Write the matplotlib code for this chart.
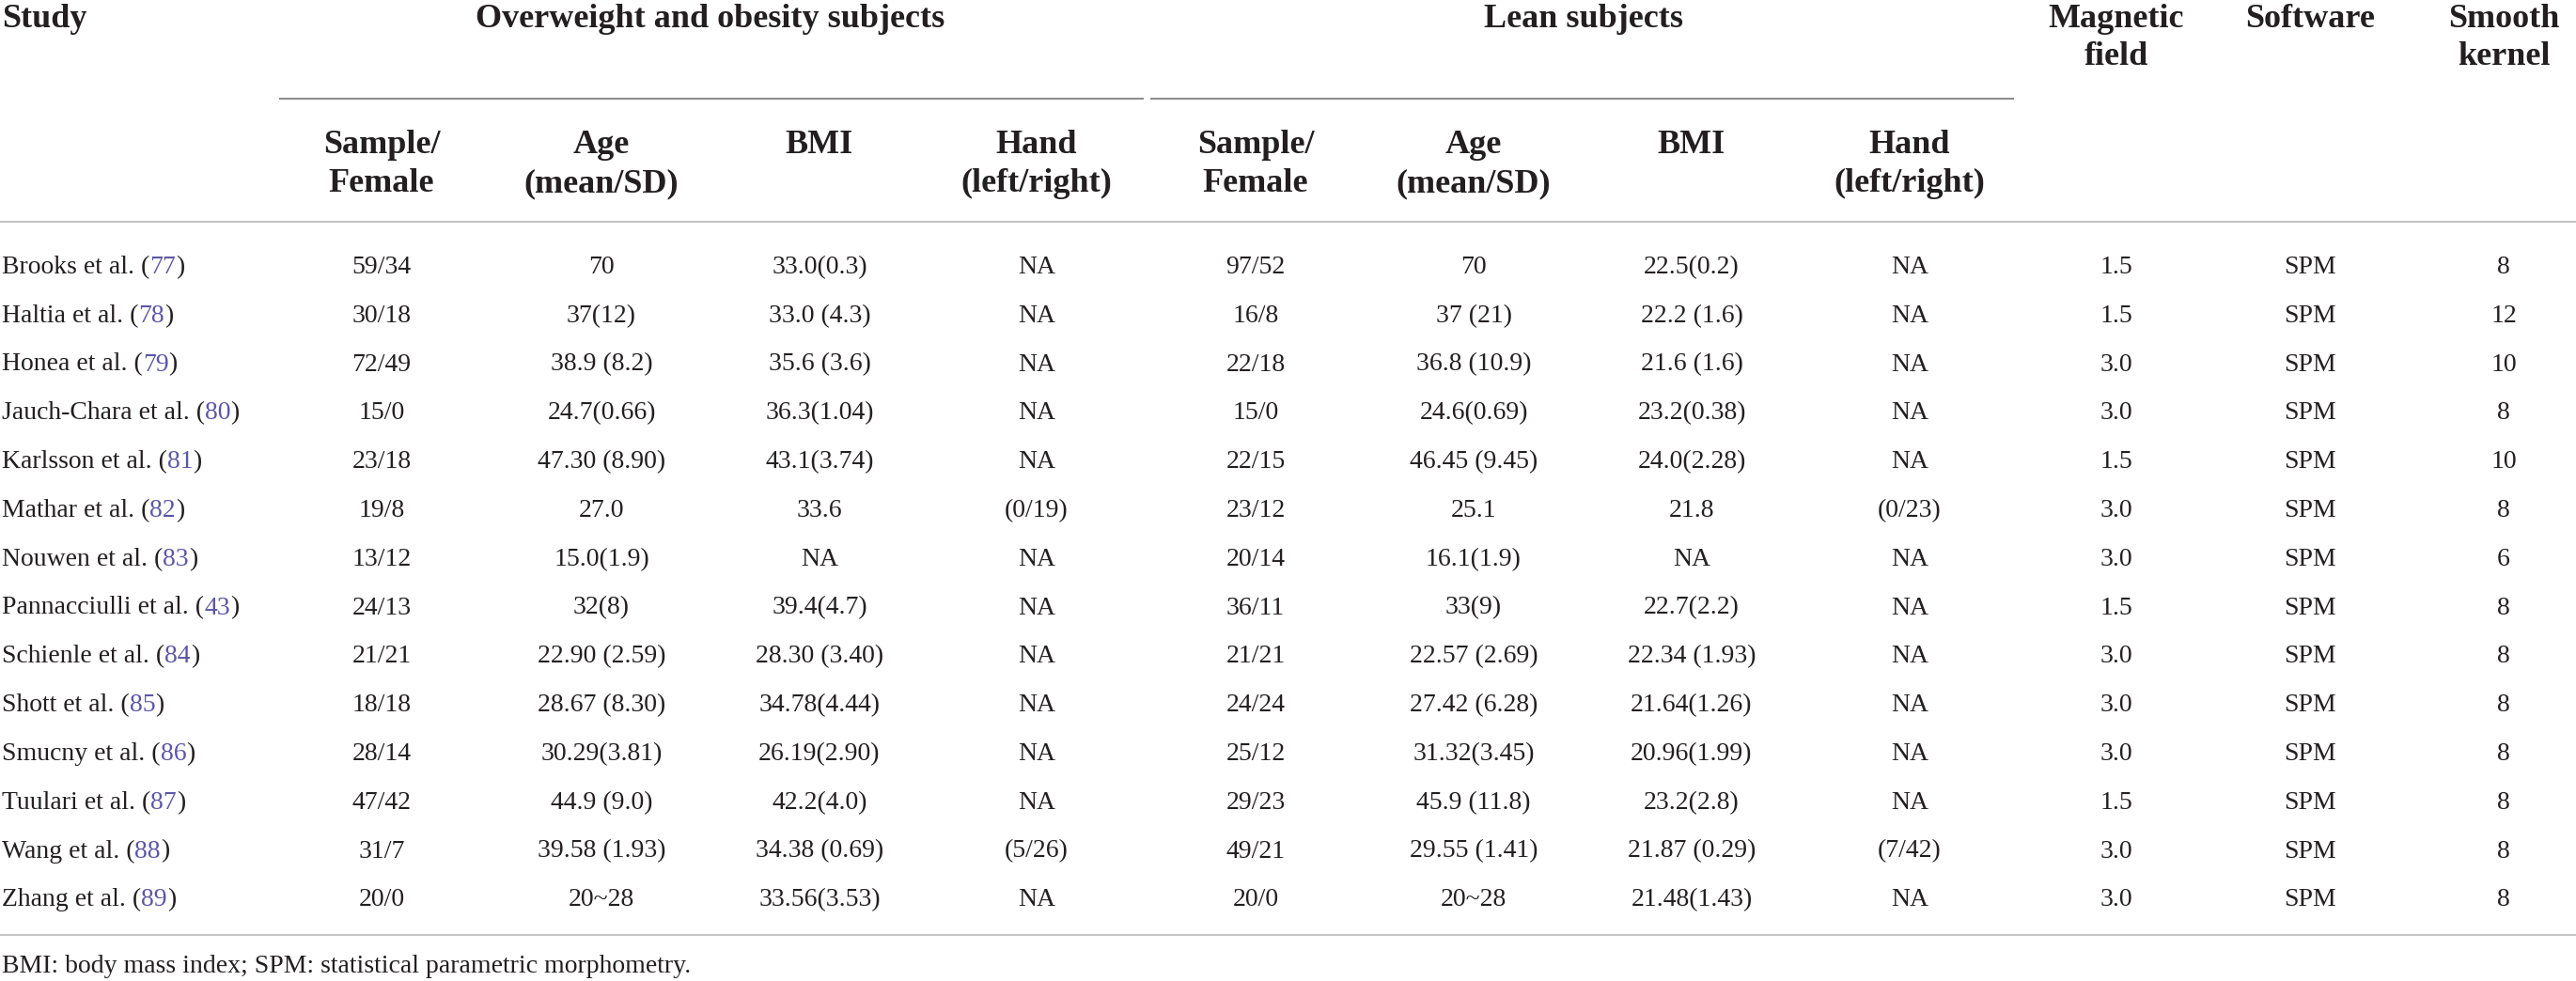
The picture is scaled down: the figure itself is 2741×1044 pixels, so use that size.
import matplotlib
matplotlib.use("Agg")
import matplotlib.pyplot as plt

# table content
studies = ["Brooks et al.", "Haltia et al.", "Honea et al.", "Jauch-Chara et al.",
           "Karlsson et al.", "Mathar et al.", "Nouwen et al.", "Pannacciulli et al.",
           "Schienle et al.", "Shott et al.", "Smucny et al.", "Tuulari et al.",
           "Wang et al.", "Zhang et al."]
refs = ["77", "78", "79", "80", "81", "82", "83", "43", "84", "85", "86", "87", "88", "89"]

ow_sample = ["59/34", "30/18", "72/49", "15/0", "23/18", "19/8", "13/12", "24/13",
             "21/21", "18/18", "28/14", "47/42", "31/7", "20/0"]
ow_age = ["70", "37(12)", "38.9 (8.2)", "24.7(0.66)", "47.30 (8.90)", "27.0", "15.0(1.9)",
          "32(8)", "22.90 (2.59)", "28.67 (8.30)", "30.29(3.81)", "44.9 (9.0)",
          "39.58 (1.93)", "20~28"]
ow_bmi = ["33.0(0.3)", "33.0 (4.3)", "35.6 (3.6)", "36.3(1.04)", "43.1(3.74)", "33.6", "NA",
          "39.4(4.7)", "28.30 (3.40)", "34.78(4.44)", "26.19(2.90)", "42.2(4.0)",
          "34.38 (0.69)", "33.56(3.53)"]
ow_hand = ["NA", "NA", "NA", "NA", "NA", "(0/19)", "NA", "NA", "NA", "NA", "NA", "NA",
           "(5/26)", "NA"]

lean_sample = ["97/52", "16/8", "22/18", "15/0", "22/15", "23/12", "20/14", "36/11",
               "21/21", "24/24", "25/12", "29/23", "49/21", "20/0"]
lean_age = ["70", "37 (21)", "36.8 (10.9)", "24.6(0.69)", "46.45 (9.45)", "25.1", "16.1(1.9)",
            "33(9)", "22.57 (2.69)", "27.42 (6.28)", "31.32(3.45)", "45.9 (11.8)",
            "29.55 (1.41)", "20~28"]
lean_bmi = ["22.5(0.2)", "22.2 (1.6)", "21.6 (1.6)", "23.2(0.38)", "24.0(2.28)", "21.8", "NA",
            "22.7(2.2)", "22.34 (1.93)", "21.64(1.26)", "20.96(1.99)", "23.2(2.8)",
            "21.87 (0.29)", "21.48(1.43)"]
lean_hand = ["NA", "NA", "NA", "NA", "NA", "(0/23)", "NA", "NA", "NA", "NA", "NA", "NA",
             "(7/42)", "NA"]

field = ["1.5", "1.5", "3.0", "3.0", "1.5", "3.0", "3.0", "1.5", "3.0", "3.0", "3.0", "1.5",
         "3.0", "3.0"]
software = ["SPM"] * 14
kernel = ["8", "12", "10", "8", "10", "8", "6", "8", "8", "8", "8", "8", "8", "8"]

group_labels = ["Overweight and obesity subjects", "Lean subjects"]
sub_labels = [("Sample/", "Female"), ("Age", "(mean/SD)"), ("BMI", ""), ("Hand", "(left/right)")]
right_labels = [("Magnetic", "field"), ("Software", ""), ("Smooth", "kernel")]
footnote = "BMI: body mass index; SPM: statistical parametric morphometry."

columns = [ow_sample, ow_age, ow_bmi, ow_hand, lean_sample, lean_age, lean_bmi, lean_hand,
           field, software, kernel]

# layout (pixels)
W, H = 2741, 1044
col_x = [406, 640, 872, 1103, 1336, 1568, 1800, 2032, 2252, 2458, 2664]
group_x = [756, 1685]
group_span = [(297, 1217), (1224, 2143)]
row0, row_step = 291, 51.8

TXT = "#231f20"
LINK = "#5b56a8"
FONT = "Liberation Serif"
body = dict(family=FONT, size=20, color=TXT)
head = dict(family=FONT, size=26, color=TXT, weight="bold")

fig = plt.figure(figsize=(W / 100, H / 100), dpi=100)
ax = fig.add_axes([0, 0, 1, 1])
ax.set_xlim(0, W)
ax.set_ylim(H, 0)
ax.axis("off")
renderer = fig.canvas.get_renderer()

# header
ax.text(2, 29, "Study", ha="left", va="baseline", **head)
for gx, lab in zip(group_x, group_labels):
    ax.text(gx, 29, lab, ha="center", va="baseline", **head)
for (x0, x1) in group_span:
    ax.plot([x0, x1], [105, 105], color="#8e8e8e", lw=1.5, solid_capstyle="butt")
for k, (l1, l2) in enumerate(sub_labels * 2):
    ax.text(col_x[k], 163, l1, ha="center", va="baseline", **head)
    if l2:
        ax.text(col_x[k], 204, l2, ha="center", va="baseline", **head)
for k, (l1, l2) in enumerate(right_labels):
    ax.text(col_x[8 + k], 29, l1, ha="center", va="baseline", **head)
    if l2:
        ax.text(col_x[8 + k], 69, l2, ha="center", va="baseline", **head)

ax.plot([0, W], [236, 236], color="#c4c4c4", lw=1.5)

# body rows
for i, name in enumerate(studies):
    y = row0 + row_step * i
    x = 2
    for part, c in [(name + " (", TXT), (refs[i], LINK), (")", TXT)]:
        t = ax.text(x, y, part, ha="left", va="baseline", **{**body, "color": c})
        x += t.get_window_extent(renderer).width
    for cx, col in zip(col_x, columns):
        ax.text(cx, y, col[i], ha="center", va="baseline", **body)

ax.plot([0, W], [995, 995], color="#c4c4c4", lw=1.5)
ax.text(2, 1035, footnote, ha="left", va="baseline", **body)

fig.savefig("out.png", dpi=100, facecolor="white")
